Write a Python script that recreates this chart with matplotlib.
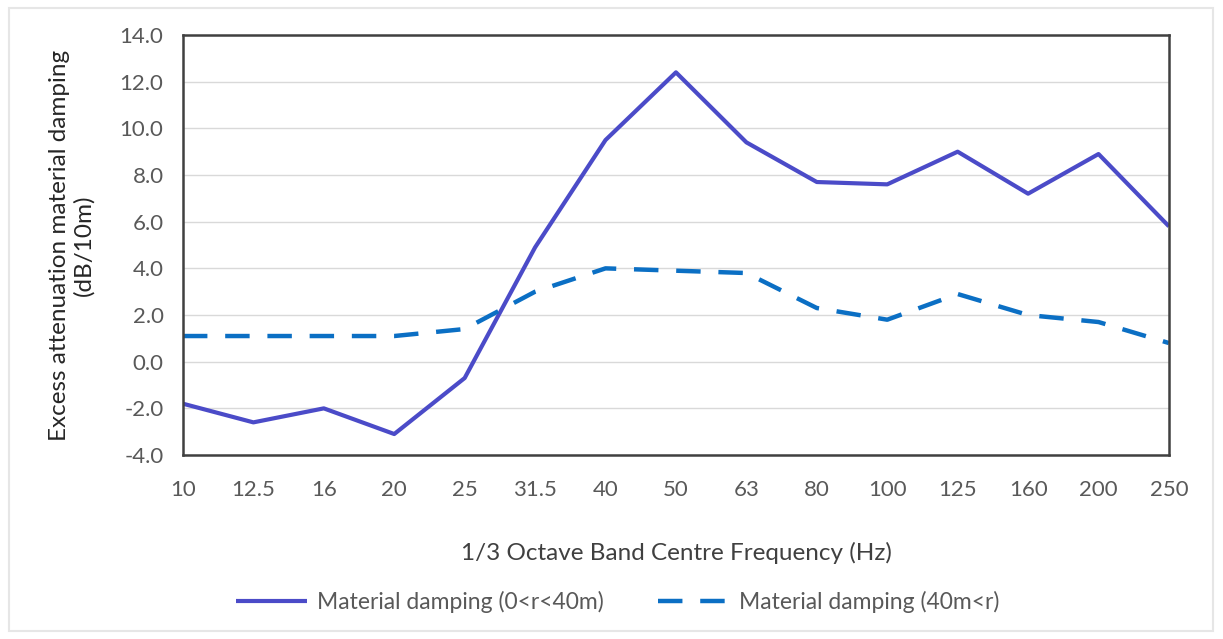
import matplotlib.pyplot as plt
from matplotlib.patches import Rectangle

plt.rcParams["font.family"] = ["Lato", "DejaVu Sans"]

freqs = ["10", "12.5", "16", "20", "25", "31.5", "40", "50", "63", "80",
         "100", "125", "160", "200", "250"]
damp_near = [-1.8, -2.6, -2.0, -3.1, -0.7, 4.9, 9.5, 12.4, 9.4, 7.7,
             7.6, 9.0, 7.2, 8.9, 5.8]
damp_far = [1.1, 1.1, 1.1, 1.1, 1.4, 3.0, 4.0, 3.9, 3.8, 2.3,
            1.8, 2.9, 2.0, 1.7, 0.8]

text_col = "#595959"

fig = plt.figure(figsize=(12.23, 6.39), dpi=100)
ax = fig.add_axes([0.1496, 0.2879, 0.8062, 0.6573])

x = list(range(len(freqs)))
ax.plot(x, damp_near, color="#4B4BC8", lw=3.0, solid_capstyle="butt",
        label="Material damping (0<r<40m)")
ax.plot(x, damp_far, color="#0B6FC4", lw=3.2, dashes=(5.5, 4.0),
        label="Material damping (40m<r)")

ax.set_xlim(0, len(freqs) - 1)
ax.set_ylim(-4, 14)
ax.set_yticks(range(-4, 15, 2))
ax.set_yticklabels([f"{v:.1f}" for v in range(-4, 15, 2)])
ax.set_xticks(x)
ax.set_xticklabels(freqs)
ax.grid(axis="y", color="#d9d9d9", lw=1.0)
ax.set_axisbelow(True)
ax.tick_params(axis="x", length=0, labelsize=16, colors=text_col, pad=18)
ax.tick_params(axis="y", length=0, labelsize=16, colors=text_col, pad=14)
for s in ax.spines.values():
    s.set_color("#404040")
    s.set_linewidth(1.8)

ax.set_ylabel("Excess attenuation material damping\n(dB/10m)", fontsize=17.5,
              color="#262626", labelpad=18, linespacing=1.15)
ax.set_xlabel("1/3 Octave Band Centre Frequency (Hz)", fontsize=17.5,
              color="#404040", labelpad=30)

leg = fig.legend(loc="center", bbox_to_anchor=(0.505, 0.058), ncol=2,
                 frameon=False, fontsize=16.5, handlelength=3.1,
                 columnspacing=2.4, handletextpad=0.4)
for t in leg.get_texts():
    t.set_color(text_col)

fig.patches.append(Rectangle((0.007, 0.012), 0.985, 0.975, transform=fig.transFigure,
                             fill=False, edgecolor="#e6e6e6", lw=1.5))

fig.savefig("out.png", dpi=100)
